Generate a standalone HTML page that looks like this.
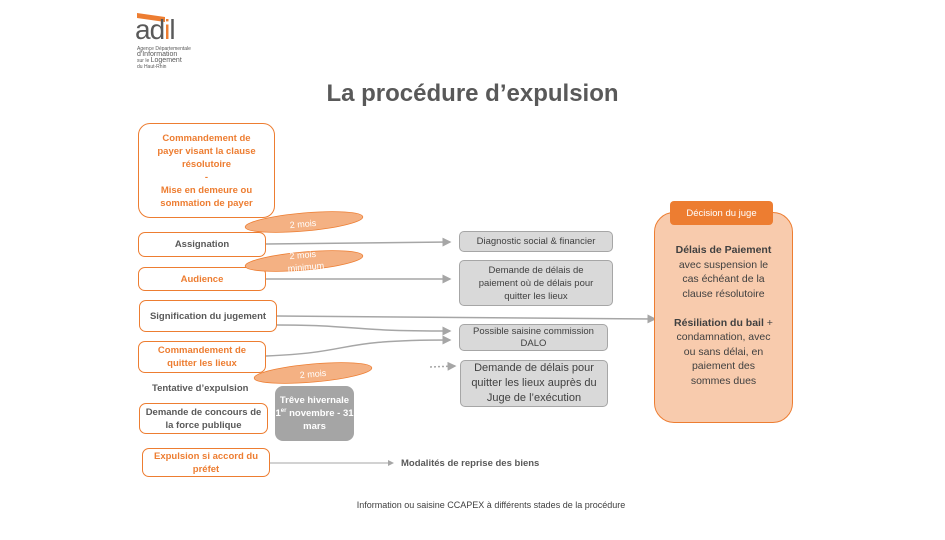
<!DOCTYPE html>
<html><head><meta charset="utf-8"><style>
body{margin:0;width:945px;height:540px;background:#fff;position:relative;overflow:hidden;font-family:"Liberation Sans","DejaVu Sans",sans-serif;}
.b{position:absolute;box-sizing:border-box;display:flex;align-items:center;justify-content:center;text-align:center;font-size:9.5px;font-weight:bold;line-height:13px;}
.o{border:1.3px solid #ed7d31;border-radius:7px;background:#fff;}
.g{border:1px solid #a6a6a6;border-radius:5px;background:#d9d9d9;color:#404040;font-weight:normal;font-size:9.5px;}
.t{position:absolute;font-size:9.5px;font-weight:bold;color:#595959;}
</style></head><body>
<div style="position:absolute;left:137px;top:15px;width:28px;height:5px;background:#ed7d31;transform:skewY(8deg);"></div>
<div style="position:absolute;left:135px;top:14px;font-size:28px;color:#595959;letter-spacing:-1px;">ad<span style="color:#ed7d31">i</span>l</div>
<div style="position:absolute;left:137px;top:46px;font-size:5px;line-height:6px;color:#595959;">Agence Départementale<br><span style="font-size:7px">d'Information</span><br>sur le <span style="font-size:7px">Logement</span><br>du Haut-Rhin</div>
<div style="position:absolute;left:0;width:945px;top:80px;text-align:center;font-size:24px;font-weight:bold;color:#595959;">La procédure d’expulsion</div>

<svg width="945" height="540" style="position:absolute;left:0;top:0">
<defs><marker id="a" markerWidth="6" markerHeight="6" refX="5" refY="3" orient="auto"><path d="M0,0 L6,3 L0,6z" fill="#a6a6a6"/></marker></defs>
<g stroke="#a6a6a6" stroke-width="1.5" fill="none">
<line x1="266" y1="244" x2="450" y2="242" marker-end="url(#a)"/>
<line x1="266" y1="279" x2="450" y2="279" marker-end="url(#a)"/>
<line x1="277" y1="316" x2="655" y2="319" marker-end="url(#a)"/>
<path d="M277,325 C360,325 340,331 450,331" marker-end="url(#a)"/>
<path d="M266,356 C360,352 330,340 450,340" marker-end="url(#a)"/>
<line x1="430" y1="367" x2="455" y2="366" stroke-dasharray="2,2" marker-end="url(#a)"/>
<line x1="270" y1="463" x2="393" y2="463" stroke-width="1" marker-end="url(#a)"/>
</g>
</svg>

<div class="b o" style="left:138px;top:123px;width:137px;height:95px;border-radius:12px;color:#ed7d31;">Commandement de<br>payer visant la clause<br>résolutoire<br>-<br>Mise en demeure ou<br>sommation de payer</div>
<div class="b o" style="left:138px;top:232px;width:128px;height:25px;color:#595959;">Assignation</div>
<div class="b o" style="left:138px;top:267px;width:128px;height:24px;color:#ed7d31;">Audience</div>
<div class="b o" style="left:139px;top:300px;width:138px;height:32px;color:#595959;">Signification du jugement</div>
<div class="b o" style="left:138px;top:341px;width:128px;height:32px;color:#ed7d31;">Commandement de<br>quitter les lieux</div>
<div class="t" style="left:152px;top:383px;">Tentative d’expulsion</div>
<div class="b o" style="left:139px;top:403px;width:129px;height:31px;color:#595959;">Demande de concours de<br>la force publique</div>
<div class="b o" style="left:142px;top:448px;width:128px;height:29px;color:#ed7d31;">Expulsion si accord du<br>préfet</div>
<div class="b" style="left:275px;top:386px;width:79px;height:55px;background:#a5a5a5;border-radius:8px;color:#fff;"><div>Trêve hivernale<br>1<sup style="font-size:6px;line-height:0">er</sup> novembre - 31<br>mars</div></div>
<div class="t" style="left:401px;top:458px;">Modalités de reprise des biens</div>

<svg width="945" height="540" style="position:absolute;left:0;top:0">
<g fill="#f4b183" stroke="#ed7d31" stroke-width="0.8">
<ellipse cx="304" cy="222" rx="59" ry="9" transform="rotate(-5 304 222)"/>
<ellipse cx="304" cy="261" rx="59" ry="9" transform="rotate(-5 304 261)"/>
<ellipse cx="313" cy="373" rx="59" ry="9" transform="rotate(-5 313 373)"/>
</g>
<g fill="#fff" font-size="9" font-family="Liberation Sans,sans-serif" text-anchor="middle">
<text x="303" y="227" transform="rotate(-5 303 224)">2 mois</text>
<text x="303" y="258" transform="rotate(-5 303 258)">2 mois</text>
<text x="306" y="270" transform="rotate(-5 306 268)">minimum</text>
<text x="313" y="377" transform="rotate(-5 313 374)">2 mois</text>
</g>
</svg>

<div class="b g" style="left:459px;top:231px;width:154px;height:21px;">Diagnostic social &amp; financier</div>
<div class="b g" style="left:459px;top:260px;width:154px;height:46px;">Demande de délais de<br>paiement où de délais pour<br>quitter les lieux</div>
<div class="b g" style="left:459px;top:324px;width:149px;height:27px;line-height:12px;">Possible saisine commission<br>DALO</div>
<div class="b g" style="left:460px;top:360px;width:148px;height:47px;font-size:11px;line-height:15px;">Demande de délais pour<br>quitter les lieux auprès du<br>Juge de l’exécution</div>

<div class="b" style="left:654px;top:212px;width:139px;height:211px;background:#f8cbad;border:1.3px solid #ed7d31;border-radius:20px;color:#404040;font-weight:normal;font-size:10.5px;line-height:14.5px;align-items:flex-start;padding-top:30px;"><div><b>Délais de Paiement</b><br>avec suspension le<br>cas échéant de la<br>clause résolutoire<br><br><b>Résiliation du bail</b> +<br>condamnation, avec<br>ou sans délai, en<br>paiement des<br>sommes dues</div></div>
<div class="b" style="left:670px;top:201px;width:103px;height:24px;background:#ed7d31;border-radius:4px;color:#fff;font-weight:normal;font-size:9.5px;">Décision du juge</div>

<div style="position:absolute;left:0;width:945px;top:500px;text-align:center;font-size:9px;color:#404040;padding-left:37px;box-sizing:border-box;">Information ou saisine CCAPEX à différents stades de la procédure</div>
</body></html>
